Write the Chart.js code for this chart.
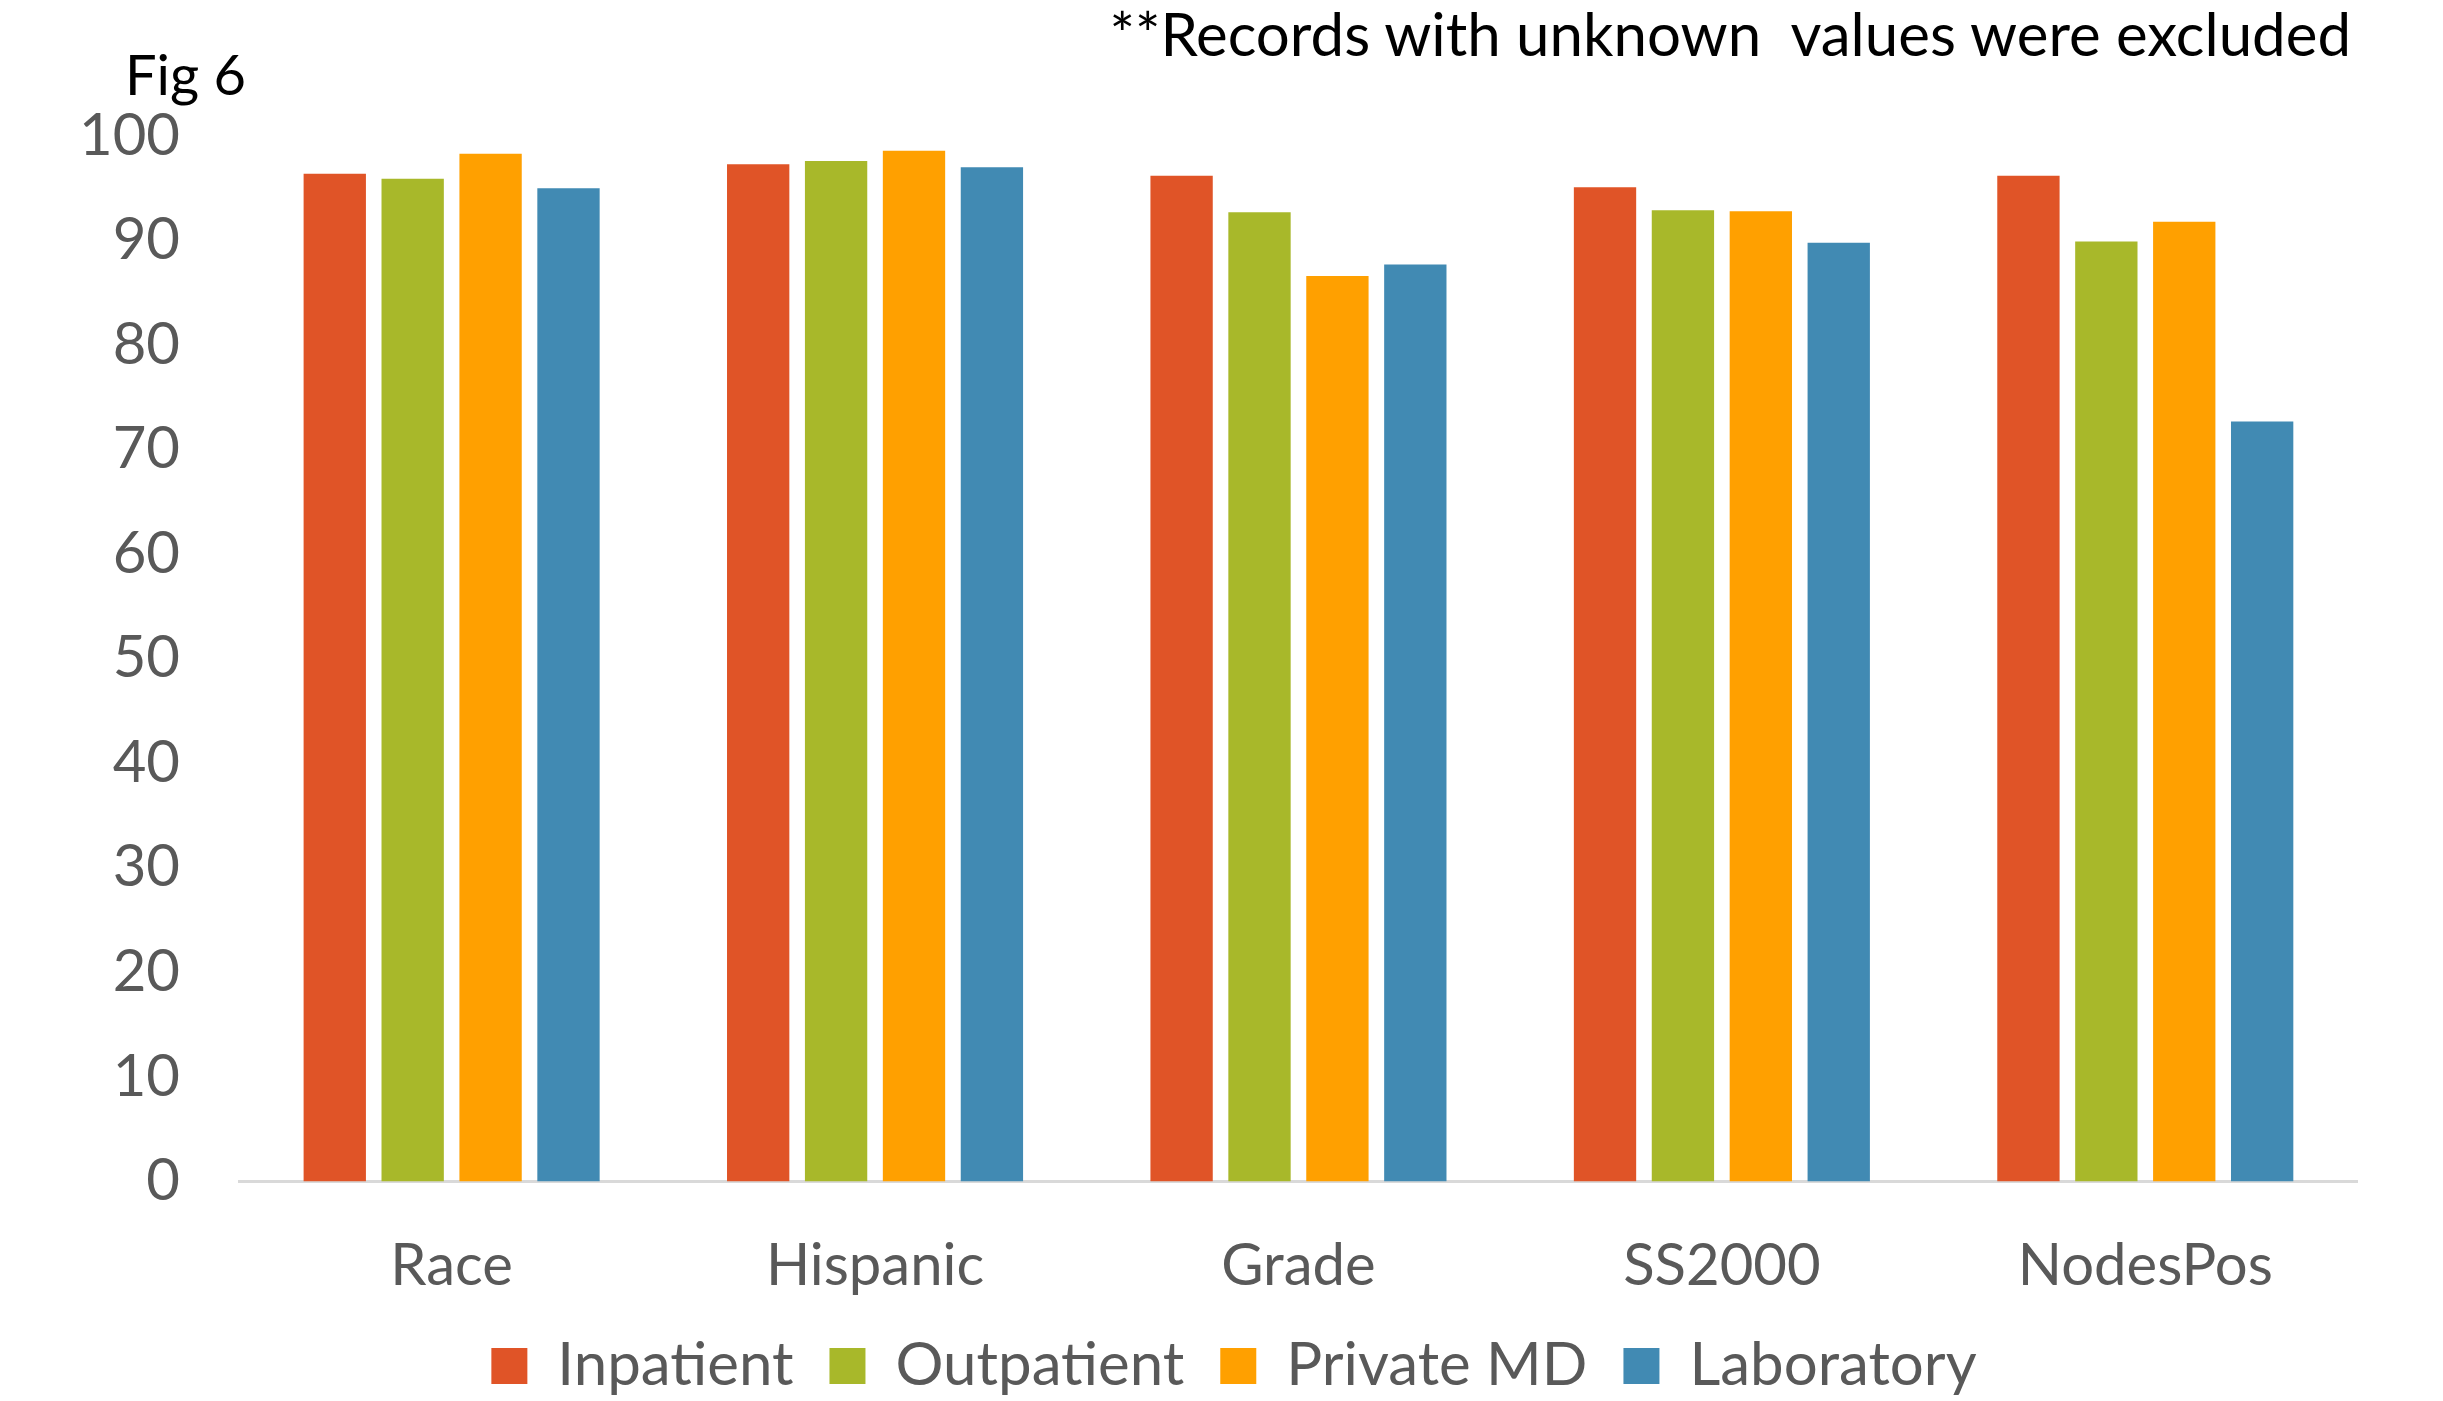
<!DOCTYPE html>
<html lang="en">
<head>
  <meta charset="UTF-8">
  <title>Fig 6</title>
  <script src="https://cdn.jsdelivr.net/npm/chart.js"></script>
  <style>
    body { margin: 0; background: #fff; font-family: Lato, sans-serif; }
    #wrap { position: relative; width: 2443px; height: 1401px; }
    #fig { position: absolute; left: 125px; top: 46px; font-size: 56px; color: #000; line-height: 1; }
    #note { position: absolute; right: 92px; top: 3px; font-size: 60px; color: #000; line-height: 1; white-space: pre; }
  </style>
</head>
<body>
  <div id="wrap">
    <canvas id="chart"></canvas>
    <div id="fig">Fig 6</div>
    <div id="note">**Records with unknown  values were excluded</div>
  </div>
  <script>
    // categorias y valores (%)
    const categorias = ['Race', 'Hispanic', 'Grade', 'SS2000', 'NodesPos'];
    const inpatient  = [96.4, 97.3, 96.2, 95.1, 96.2];
    const outpatient = [95.9, 97.6, 92.7, 92.9, 89.9];
    const privateMD  = [98.3, 98.6, 86.6, 92.8, 91.8];
    const laboratory = [95.0, 97.0, 87.7, 89.8, 72.7];

    const gris = '#595959';

    function serie(label, data, color) {
      return {
        label: label,
        data: data,
        backgroundColor: color,
        borderWidth: 0,
        categoryPercentage: 0.736,
        barPercentage: 0.8
      };
    }

    // mueve la leyenda un poco a la derecha y abajo
    const moverLeyenda = {
      id: 'moverLeyenda',
      afterLayout(chart) {
        const lg = chart.legend;
        lg.left += 46; lg.right += 46;
        lg.top += 5; lg.bottom += 5;
      }
    };

    const ctx = document.getElementById('chart').getContext('2d');
    new Chart(ctx, {
      type: 'bar',
      data: {
        labels: categorias,
        datasets: [
          serie('Inpatient', inpatient, '#E05427'),
          serie('Outpatient', outpatient, '#A8B82A'),
          serie('Private MD', privateMD, '#FFA000'),
          serie('Laboratory', laboratory, '#418AB3')
        ]
      },
      plugins: [moverLeyenda],
      options: {
        responsive: true,
        maintainAspectRatio: false,
        animation: false,
        layout: { padding: { top: 136, right: 86, left: 19, bottom: 0 } },
        plugins: {
          tooltip: { enabled: false },
          legend: {
            position: 'bottom',
            labels: {
              color: gris,
              font: { family: 'Lato', size: 60 },
              boxWidth: 36,
              boxHeight: 36,
              padding: 36
            }
          }
        },
        scales: {
          x: {
            grid: { display: false, drawTicks: false },
            border: { display: true, color: '#D9D9D9', width: 3 },
            ticks: { color: gris, font: { family: 'Lato', size: 58 }, padding: 50 },
            // las etiquetas invaden el margen superior de la leyenda
            afterFit: (scale) => { scale.height -= 56; }
          },
          y: {
            min: 0,
            max: 100,
            grid: { display: false, drawTicks: false },
            border: { display: false },
            ticks: { stepSize: 10, color: gris, font: { family: 'Lato', size: 58 }, padding: 60 }
          }
        }
      }
    });
  </script>
</body>
</html>
